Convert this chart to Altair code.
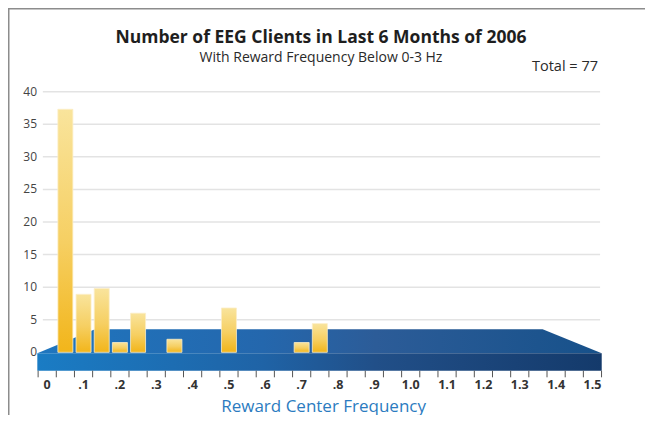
import altair as alt
import pandas as pd

# ---- data ----
freqs = [0.05, 0.10, 0.15, 0.20, 0.25, 0.35, 0.50, 0.70, 0.75]
counts = [37.3, 8.9, 9.8, 1.5, 6.0, 2.0, 6.8, 1.5, 4.4]

x_label_values = [0.0, 0.1, 0.2, 0.3, 0.4, 0.5, 0.6, 0.7, 0.8, 0.9, 1.0, 1.1, 1.2, 1.3, 1.4, 1.5]
x_label_texts = ["0", ".1", ".2", ".3", ".4", ".5", ".6", ".7", ".8", ".9",
                 "1.0", "1.1", "1.2", "1.3", "1.4", "1.5"]
y_tick_values = [0, 5, 10, 15, 20, 25, 30, 35, 40]
tick_positions = [round(-0.025 + 0.05 * k, 3) for k in range(32)]

title_text = "Number of EEG Clients in Last 6 Months of 2006"
subtitle_text = "With Reward Frequency Below 0-3 Hz"
total_text = "Total = 77"
x_title_text = "Reward Center Frequency"

FONT = "Open Sans"
W, H = 637, 407

xs = alt.Scale(domain=[-0.10784, 1.64456], nice=False, zero=False, padding=0)
ys = alt.Scale(domain=[-9.624, 52.847], nice=False, zero=False, padding=0)

# ---- platform (3D base) ----
PLAT_FRONT = -0.153
PLAT_BACK = 3.53
PLAT_BOTTOM = -2.824
TICK_BOTTOM = -3.837
top_face = pd.DataFrame({
    "x": [-0.0272, 0.1315, 1.363, 1.5255],
    "y": [PLAT_FRONT, PLAT_BACK, PLAT_BACK, PLAT_FRONT],
    "y2": [PLAT_FRONT] * 4,
})
front_face = pd.DataFrame({"x": [-0.0272], "x2": [1.5255], "y": [PLAT_FRONT], "y2": [PLAT_BOTTOM]})

top_grad = alt.Gradient(
    gradient="linear",
    stops=[alt.GradientStop(color="#1f76bf", offset=0),
           alt.GradientStop(color="#2467ad", offset=0.4),
           alt.GradientStop(color="#2c5c98", offset=0.6),
           alt.GradientStop(color="#17518a", offset=1)],
    x1=0, x2=1, y1=0, y2=0)
front_grad = alt.Gradient(
    gradient="linear",
    stops=[alt.GradientStop(color="#1a7cc4", offset=0),
           alt.GradientStop(color="#1f63a6", offset=0.4),
           alt.GradientStop(color="#214f88", offset=0.6),
           alt.GradientStop(color="#143a6b", offset=1)],
    x1=0, x2=1, y1=0, y2=0)
bar_grad = alt.Gradient(
    gradient="linear",
    stops=[alt.GradientStop(color="#f9e49c", offset=0),
           alt.GradientStop(color="#f6cf62", offset=0.55),
           alt.GradientStop(color="#f2b51a", offset=1)],
    x1=0, x2=0, y1=0, y2=1)

one = pd.DataFrame({"a": [0]})

frame_top = alt.Chart(one).mark_rule(color="#8c8c8c", strokeWidth=1.5).encode(
    x=alt.value(0), x2=alt.value(W), y=alt.value(0.75))
frame_left = alt.Chart(one).mark_rule(color="#8c8c8c", strokeWidth=1.5).encode(
    x=alt.value(0.75), y=alt.value(0), y2=alt.value(H))

grid_df = pd.DataFrame({"v": y_tick_values[1:], "x0": -0.012, "x1": 1.521})
grid = alt.Chart(grid_df).mark_rule(color="#e3e3e3", strokeWidth=1.5).encode(
    x=alt.X("x0:Q", scale=xs, axis=None), x2="x1:Q",
    y=alt.Y("v:Q", scale=ys, axis=None))

top = alt.Chart(top_face).mark_area(color=top_grad, interpolate="linear").encode(
    x=alt.X("x:Q", scale=xs, axis=None),
    y=alt.Y("y:Q", scale=ys, axis=None), y2="y2:Q")
front = alt.Chart(front_face).mark_rect(color=front_grad).encode(
    x=alt.X("x:Q", scale=xs, axis=None), x2="x2:Q",
    y=alt.Y("y:Q", scale=ys, axis=None), y2="y2:Q")

ticks_df = pd.DataFrame({"x": tick_positions, "y": PLAT_BOTTOM, "y2": TICK_BOTTOM})
ticks = alt.Chart(ticks_df).mark_rule(color="#555555", strokeWidth=1).encode(
    x=alt.X("x:Q", scale=xs, axis=None),
    y=alt.Y("y:Q", scale=ys, axis=None), y2="y2:Q")

bars_df = pd.DataFrame({"f": freqs, "n": counts, "base": 0})
bars = alt.Chart(bars_df).mark_bar(size=15, color=bar_grad, stroke="#fbeec6", strokeWidth=0.8).encode(
    x=alt.X("f:Q", scale=xs, axis=None),
    y=alt.Y("n:Q", scale=ys, axis=None), y2="base:Q")

ylab_df = pd.DataFrame({"v": y_tick_values, "t": [str(v) for v in y_tick_values]})
ylabels = alt.Chart(ylab_df).mark_text(align="right", baseline="middle", fontSize=12,
                                       color="#444444", font=FONT).encode(
    x=alt.value(29), y=alt.Y("v:Q", scale=ys, axis=None), text="t:N")

xlab_df = pd.DataFrame({"v": x_label_values, "t": x_label_texts})
xlabels = alt.Chart(xlab_df).mark_text(align="center", baseline="middle", fontSize=12.5,
                                       fontWeight="bold", color="#333333", font=FONT).encode(
    x=alt.X("v:Q", scale=xs, axis=None), y=alt.value(376.5), text="t:N")

def label(txt, x, y, size, weight="normal", color="#222222", align="center"):
    return alt.Chart(pd.DataFrame({"t": [txt]})).mark_text(
        align=align, baseline="alphabetic", fontSize=size, fontWeight=weight,
        color=color, font=FONT).encode(x=alt.value(x), y=alt.value(y), text="t:N")

title = label(title_text, 313, 34.5, 17.5, "bold", "#1e1e1e")
subtitle = label(subtitle_text, 313, 53.5, 14, "normal", "#2a2a2a")
total = label(total_text, 590, 62.5, 14.5, "normal", "#2a2a2a", "right")
xtitle = label(x_title_text, 315.6, 403.5, 17, "normal", "#2b7bc0")

chart = alt.layer(
    frame_top, frame_left, grid, top, front, ticks, bars,
    ylabels, xlabels, title, subtitle, total, xtitle
).properties(
    width=W, height=H, padding=0, background="white",
    autosize=alt.AutoSizeParams(type="none")
).configure_view(stroke=None)

chart.save("out.html", embed_options={"renderer": "svg", "actions": False})
